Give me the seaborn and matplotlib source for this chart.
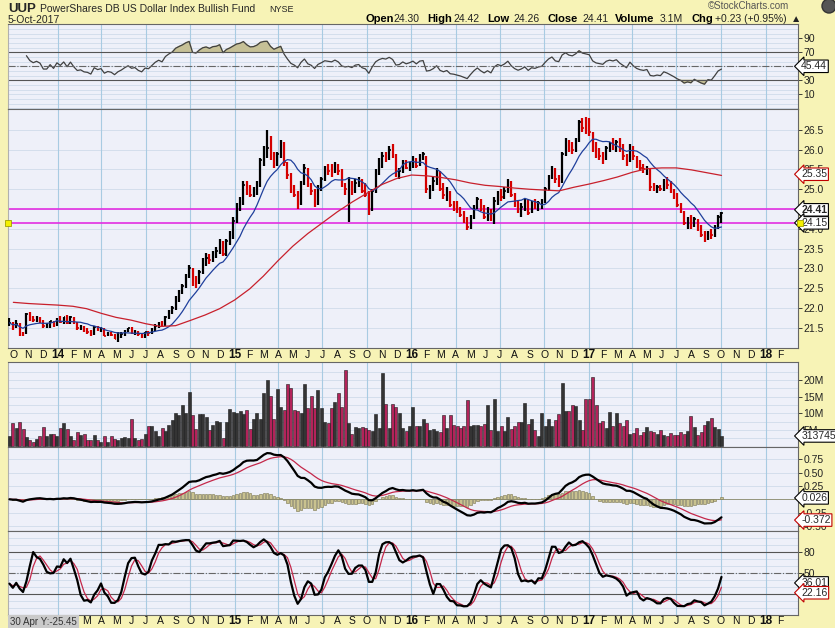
import numpy as np
import pandas as pd
import matplotlib
matplotlib.use('Agg')
import matplotlib.pyplot as plt
import matplotlib.dates as mdates
import matplotlib.transforms as mtransforms
from matplotlib.patches import Circle
import seaborn as sns

sns.set_style('white')
plt.rcParams['font.family'] = ['Liberation Sans', 'DejaVu Sans']
plt.rcParams['axes.unicode_minus'] = False

# weekly bars (week starting Monday)
week_start = '2013-09-23'
highs = [
    21.75, 21.65, 21.70, 21.62, 21.40, 21.88, 21.90, 21.80, 21.80, 21.78,
    21.70, 21.62, 21.68, 21.66, 21.75, 21.80, 21.78, 21.82, 21.80, 21.78,
    21.64, 21.56, 21.55, 21.48, 21.45, 21.55, 21.55, 21.52, 21.50, 21.40,
    21.40, 21.35, 21.38, 21.38, 21.45, 21.50, 21.52, 21.45, 21.42, 21.36,
    21.40, 21.42, 21.48, 21.58, 21.65, 21.68, 21.80, 21.95, 22.05, 22.30,
    22.45, 22.60, 22.85, 23.08, 23.00, 22.80, 22.95, 23.25, 23.40, 23.35,
    23.45, 23.55, 23.75, 23.70, 23.75, 23.95, 24.30, 24.65, 24.80, 25.20,
    25.20, 25.10, 25.05, 25.20, 25.80, 26.10, 26.50, 26.35, 25.95, 25.95,
    26.25, 26.20, 25.70, 25.40, 25.10, 24.95, 25.20, 25.65, 25.55, 25.15,
    25.00, 25.10, 25.30, 25.60, 25.65, 25.65, 25.70, 25.65, 25.50, 25.15,
    25.30, 25.20, 25.25, 25.30, 25.25, 25.15, 24.95, 25.00, 25.50, 25.80,
    25.95, 25.95, 26.10, 26.15, 25.90, 25.55, 25.75, 25.75, 25.70, 25.85,
    25.80, 25.90, 25.95, 25.85, 25.10, 25.30, 25.55, 25.45, 25.15, 25.05,
    24.95, 24.70, 24.70, 24.55, 24.45, 24.30, 24.35, 24.60, 24.80, 24.75,
    24.60, 24.55, 24.50, 24.80, 24.95, 25.00, 25.05, 25.25, 25.20, 24.90,
    24.70, 24.65, 24.75, 24.75, 24.70, 24.75, 24.70, 24.75, 25.05, 25.35,
    25.60, 25.55, 25.35, 25.95, 26.30, 26.25, 26.20, 26.30, 26.75, 26.80,
    26.84, 26.80, 26.45, 26.20, 26.05, 25.95, 26.10, 26.20, 26.30, 26.25,
    26.30, 26.15, 25.90, 26.15, 26.10, 25.85, 25.75, 25.65, 25.60, 25.55,
    25.15, 25.10, 25.10, 25.25, 25.30, 25.20, 25.00, 24.90, 24.65, 24.45,
    24.30, 24.35, 24.30, 24.25, 24.10, 23.95, 23.95, 24.00, 24.10, 24.35, 24.42,
]
lows = [
    21.55, 21.45, 21.48, 21.30, 21.28, 21.35, 21.68, 21.65, 21.64, 21.62,
    21.50, 21.48, 21.50, 21.52, 21.55, 21.62, 21.60, 21.60, 21.60, 21.58,
    21.45, 21.44, 21.38, 21.35, 21.30, 21.32, 21.42, 21.38, 21.28, 21.28,
    21.28, 21.20, 21.14, 21.25, 21.30, 21.38, 21.35, 21.32, 21.30, 21.24,
    21.25, 21.30, 21.34, 21.42, 21.50, 21.55, 21.55, 21.72, 21.85, 21.95,
    22.15, 22.35, 22.50, 22.75, 22.55, 22.50, 22.60, 22.85, 23.05, 23.10,
    23.15, 23.25, 23.35, 23.30, 23.30, 23.60, 23.75, 24.15, 24.45, 24.60,
    24.85, 24.80, 24.80, 24.85, 25.05, 25.60, 25.80, 25.75, 25.55, 25.60,
    25.80, 25.60, 25.25, 24.90, 24.80, 24.50, 24.60, 25.10, 25.05, 24.85,
    24.55, 24.60, 24.95, 25.20, 25.35, 25.30, 25.40, 25.35, 25.05, 24.85,
    24.18, 24.85, 24.90, 25.05, 24.90, 24.80, 24.35, 24.45, 24.90, 25.35,
    25.55, 25.70, 25.75, 25.80, 25.30, 25.25, 25.40, 25.50, 25.45, 25.55,
    25.55, 25.60, 25.75, 24.90, 24.75, 24.95, 25.10, 24.95, 24.75, 24.70,
    24.55, 24.45, 24.40, 24.30, 24.15, 23.97, 24.00, 24.25, 24.50, 24.45,
    24.25, 24.20, 24.20, 24.12, 24.60, 24.70, 24.75, 24.90, 24.80, 24.55,
    24.40, 24.30, 24.45, 24.35, 24.40, 24.50, 24.45, 24.50, 24.65, 24.95,
    25.25, 25.15, 25.05, 25.15, 25.85, 25.95, 25.90, 25.95, 26.20, 26.45,
    26.40, 26.35, 25.95, 25.80, 25.75, 25.65, 25.75, 25.95, 26.00, 25.95,
    25.95, 25.75, 25.60, 25.70, 25.75, 25.55, 25.45, 25.40, 25.35, 24.95,
    24.95, 24.90, 24.95, 24.95, 25.00, 24.90, 24.75, 24.55, 24.40, 24.10,
    24.00, 24.00, 24.05, 23.95, 23.80, 23.66, 23.72, 23.75, 23.80, 24.00, 24.15,
]
closes = [
    21.62, 21.52, 21.60, 21.35, 21.32, 21.85, 21.75, 21.70, 21.74, 21.70,
    21.55, 21.55, 21.66, 21.56, 21.72, 21.65, 21.76, 21.62, 21.78, 21.62,
    21.48, 21.50, 21.42, 21.40, 21.33, 21.52, 21.45, 21.48, 21.30, 21.35,
    21.32, 21.22, 21.30, 21.35, 21.42, 21.48, 21.40, 21.42, 21.33, 21.28,
    21.38, 21.36, 21.45, 21.55, 21.62, 21.58, 21.78, 21.90, 22.00, 22.25,
    22.40, 22.55, 22.80, 23.00, 22.65, 22.62, 22.90, 23.15, 23.25, 23.20,
    23.40, 23.45, 23.65, 23.35, 23.70, 23.90, 24.20, 24.55, 24.70, 25.10,
    24.95, 24.85, 24.90, 25.15, 25.75, 26.00, 26.05, 25.80, 25.65, 25.90,
    26.15, 25.70, 25.35, 25.00, 24.85, 24.60, 25.15, 25.55, 25.10, 24.95,
    24.60, 25.05, 25.25, 25.50, 25.45, 25.40, 25.60, 25.45, 25.10, 25.00,
    25.05, 24.95, 25.15, 25.20, 24.95, 24.85, 24.45, 24.95, 25.45, 25.70,
    25.85, 25.80, 26.00, 25.85, 25.40, 25.45, 25.70, 25.55, 25.65, 25.80,
    25.60, 25.85, 25.90, 25.00, 25.05, 25.20, 25.45, 25.00, 24.85, 24.95,
    24.60, 24.55, 24.45, 24.35, 24.20, 24.05, 24.30, 24.55, 24.75, 24.50,
    24.30, 24.45, 24.25, 24.70, 24.90, 24.80, 24.95, 25.20, 24.85, 24.60,
    24.45, 24.55, 24.70, 24.40, 24.60, 24.55, 24.65, 24.70, 25.00, 25.30,
    25.50, 25.25, 25.20, 25.90, 26.20, 26.05, 26.00, 26.25, 26.70, 26.55,
    26.50, 26.45, 26.05, 25.90, 25.85, 25.80, 26.05, 26.15, 26.10, 26.20,
    26.00, 25.85, 25.70, 26.10, 25.85, 25.65, 25.55, 25.50, 25.55, 25.05,
    25.00, 25.05, 25.00, 25.20, 25.10, 24.95, 24.80, 24.60, 24.45, 24.15,
    24.20, 24.10, 24.25, 24.05, 23.85, 23.70, 23.90, 23.85, 24.05, 24.30, 24.41,
]
# weekly volume, millions of shares
volumes = [
    3.2, 7.0, 5.6, 7.3, 5.2, 2.8, 2.0, 1.2, 2.3, 3.0,
    5.8, 3.0, 3.8, 3.6, 3.0, 5.6, 7.0, 5.2, 3.0, 2.0,
    4.2, 3.4, 3.8, 2.0, 2.0, 3.5, 1.8, 1.4, 3.2, 1.2,
    3.0, 2.2, 2.0, 2.6, 2.8, 2.6, 8.3, 2.5, 1.9, 2.2,
    3.7, 6.3, 6.3, 4.5, 3.0, 5.4, 4.5, 6.5, 8.0, 10.0,
    9.5, 12.5, 10.0, 16.5, 9.6, 5.3, 9.8, 9.8, 9.0, 5.0,
    6.5, 7.8, 7.5, 2.5, 7.3, 11.3, 10.3, 10.2, 10.7, 9.8,
    11.0, 5.2, 8.4, 10.0, 8.2, 16.0, 20.2, 15.2, 8.2, 17.3,
    12.0, 11.0, 18.9, 17.7, 11.0, 10.8, 10.0, 18.9, 11.5, 15.2,
    11.6, 16.9, 11.5, 7.4, 7.0, 11.5, 13.3, 16.1, 12.0, 23.2,
    7.0, 3.8, 5.8, 5.4, 5.8, 5.6, 5.0, 4.6, 9.8, 5.4,
    22.2, 12.8, 5.6, 12.8, 12.0, 10.2, 5.4, 4.5, 6.0, 12.0,
    6.3, 6.3, 8.2, 7.1, 5.0, 5.2, 4.5, 4.4, 9.5, 5.5,
    9.5, 6.6, 6.0, 5.5, 6.0, 14.0, 6.2, 6.4, 6.6, 6.2,
    6.8, 12.6, 5.0, 14.3, 4.5, 6.3, 4.6, 9.0, 5.3, 6.2,
    7.5, 7.5, 13.0, 6.8, 8.2, 5.0, 3.0, 10.2, 6.2, 8.4,
    6.0, 8.0, 9.8, 19.0, 10.8, 10.8, 12.5, 12.3, 8.0, 5.0,
    14.3, 14.2, 21.1, 12.4, 7.0, 7.8, 5.5, 10.3, 6.2, 10.0,
    7.1, 6.2, 8.0, 3.6, 4.0, 5.5, 3.5, 4.2, 5.7, 4.5,
    4.2, 3.8, 4.8, 3.5, 3.2, 4.0, 3.3, 3.5, 4.3, 3.8,
    4.5, 9.3, 5.8, 3.5, 4.2, 6.5, 7.6, 8.6, 5.8, 5.3, 3.1,
]
# 40-week moving average (red line), read once a month
ma40_dates = pd.date_range('2013-10-01', '2017-09-01', freq='MS').append(pd.DatetimeIndex(['2017-10-02']))
ma40_values = [
    22.14, 22.11, 22.09,
    22.07, 22.04, 21.98, 21.86, 21.76, 21.69, 21.60, 21.53, 21.55, 21.68, 21.82, 21.98,
    22.20, 22.48, 22.80, 23.20, 23.56, 23.88, 24.15, 24.43, 24.68, 24.90, 25.12, 25.27,
    25.36, 25.34, 25.30, 25.24, 25.16, 25.10, 25.07, 25.03, 25.00, 24.98, 24.96, 25.05,
    25.13, 25.22, 25.31, 25.43, 25.52, 25.54, 25.54, 25.49, 25.42,
    25.35,
]
hlines_px = [24.50, 24.15]

dates = pd.date_range(week_start, periods=len(closes), freq='W-MON')
xd = mdates.date2num(dates)
c = pd.Series(closes)

# indicators from the weekly data
ma10 = c.rolling(10, min_periods=1).mean()
delta = c.diff()
gain = delta.clip(lower=0).ewm(alpha=1 / 14, adjust=True).mean()
loss = (-delta.clip(upper=0)).ewm(alpha=1 / 14, adjust=True).mean()
rsi = 100 - 100 / (1 + gain / loss)
rsi_start = 5  # too few weeks before this for a stable value
ema12 = c.ewm(span=12, adjust=False).mean()
ema26 = c.ewm(span=26, adjust=False).mean()
macd = ema12 - ema26
signal = macd.ewm(span=9, adjust=False).mean()
hist = macd - signal
hh = pd.Series(highs).rolling(14, min_periods=1).max()
ll = pd.Series(lows).rolling(14, min_periods=1).min()
fastk = 100 * (c - ll) / (hh - ll)
slowk = fastk.rolling(3, min_periods=1).mean()
slowd = slowk.rolling(3, min_periods=1).mean()

up = np.r_[True, np.diff(closes) >= 0]
bar_colors = np.where(up, 'black', '#d40000')
vol_colors = np.where(up, '#343434', '#b3235a')

W, H = 835, 628
fig = plt.figure(figsize=(W / 100, H / 100), dpi=100)
fig.patch.set_facecolor('#f7f3b6')

xmin = mdates.date2num(pd.Timestamp('2013-09-20'))
xmax = mdates.date2num(pd.Timestamp('2018-03-09'))
quarters = mdates.date2num(pd.date_range('2014-01-01', '2018-01-01', freq='QS'))


def panel(top, bottom):
    return fig.add_axes([8 / W, 1 - bottom / H, 790 / W, (bottom - top) / H])


def style(ax, ylim, ticks, labels, grid):
    ax.set_facecolor('#eef0f9')
    ax.set_xlim(xmin, xmax)
    ax.set_ylim(*ylim)
    for g in grid:
        ax.axhline(g, color='#cfdbea', lw=0.6, zorder=0)
    for q in quarters:
        ax.axvline(q, color='#a8cbe2', lw=0.8, zorder=0)
    ax.yaxis.tick_right()
    ax.set_yticks(ticks)
    ax.set_yticklabels(labels)
    ax.tick_params(axis='y', length=3, width=0.6, pad=1, labelsize=7.5, colors='#222222')
    ax.set_xticks([])
    ax.set_xlabel('')
    ax.set_ylabel('')
    for s in ax.spines.values():
        s.set_color('#666666')
        s.set_linewidth(0.8)
    ax.spines['left'].set_color('#b0b0b0')


def value_box(ax, y, text, ec='black', bold=False, marker=False):
    ax.annotate(text, xy=(1.004, y), xycoords=('axes fraction', 'data'), ha='left', va='center',
                fontsize=7.5, fontweight='bold' if bold else 'normal', zorder=10, annotation_clip=False,
                bbox=dict(boxstyle='larrow,pad=0.12', fc='white', ec=ec, lw=0.8))
    if marker:
        ax.plot([1.003], [y], marker='s', ms=4, mfc='#f4f000', mec='#a0a000', mew=0.6,
                transform=ax.get_yaxis_transform(), clip_on=False, zorder=11)


# RSI panel
ax_rsi = panel(24, 109)
rx = xd[rsi_start:]
rv = rsi.values[rsi_start:]
sns.lineplot(x=rx, y=rv, ax=ax_rsi, color='#404040', lw=0.9)
ax_rsi.fill_between(rx, rv, 70, where=rv > 70, interpolate=True, color='#c6c096', zorder=1)
ax_rsi.fill_between(rx, rv, 30, where=rv < 30, interpolate=True, color='#c6c096', zorder=1)
ax_rsi.axhline(70, color='#555555', lw=0.8)
ax_rsi.axhline(30, color='#555555', lw=0.8)
ax_rsi.axhline(50, color='#666666', lw=0.8, ls='-.')
style(ax_rsi, (-11, 110.4), [10, 30, 50, 70, 90], ['10', '30', '50', '70', '90'],
      np.arange(50 - 20 / 3 * 9, 110, 20 / 3))
value_box(ax_rsi, 50, '45.44')

# price panel
ax_px = panel(109, 348)
ax_px.vlines(xd, lows, highs, colors=bar_colors, lw=1.6, zorder=3)
ax_px.hlines(closes, xd, xd + 3, colors=bar_colors, lw=1.2, zorder=3)
sns.lineplot(x=xd, y=ma10.values, ax=ax_px, color='#1f3f9c', lw=0.9, zorder=4)
sns.lineplot(x=mdates.date2num(ma40_dates), y=ma40_values, ax=ax_px, color='#c8202c', lw=0.9, zorder=4)
for lv in hlines_px:
    ax_px.axhline(lv, color='#e22ee2', lw=1.2, zorder=2)
price_ticks = np.arange(21.5, 26.51, 0.5)
style(ax_px, (20.985, 27.03), price_ticks, ['%.1f' % t for t in price_ticks], price_ticks)
value_box(ax_px, 25.38, '25.35', ec='#c00000')
value_box(ax_px, 24.48, '24.41', bold=True)
value_box(ax_px, 24.15, '24.15', marker=True)
ax_px.plot([0.0], [24.15], marker='s', ms=4, mfc='#f4f000', mec='#a0a000', mew=0.6,
           transform=ax_px.get_yaxis_transform(), clip_on=False, zorder=11)

# volume panel
ax_vol = panel(362, 447)
ax_vol.bar(xd, volumes, width=6.2, color=vol_colors, edgecolor='#1a1a1a', lw=0.4, zorder=3)
style(ax_vol, (-0.2, 25.5), [5, 10, 15, 20], ['5M', '10M', '15M', '20M'], np.arange(2.5, 25, 2.5))
value_box(ax_vol, 3.14, '3137457')

# MACD panel
ax_macd = panel(447, 531)
ax_macd.bar(xd, hist.values, width=5.0, color='#c9c28f', edgecolor='#77734c', lw=0.4, zorder=2)
ax_macd.axhline(0, color='#8a8a6a', lw=0.6, zorder=2)
sns.lineplot(x=xd, y=signal.values, ax=ax_macd, color='#c4284a', lw=0.9, zorder=3)
sns.lineplot(x=xd, y=macd.values, ax=ax_macd, color='black', lw=1.6, zorder=4)
style(ax_macd, (-0.595, 0.981), [-0.5, -0.25, 0.25, 0.5, 0.75],
      ['-0.50', '-0.25', '0.25', '0.50', '0.75'], np.arange(-0.5, 0.9, 0.25))
value_box(ax_macd, 0.026, '0.026')
value_box(ax_macd, -0.39, '-0.372', ec='#c00000')

# slow stochastics panel
ax_sto = panel(531, 615)
sns.lineplot(x=xd, y=slowd.values, ax=ax_sto, color='#c4284a', lw=0.9, zorder=3)
sns.lineplot(x=xd, y=slowk.values, ax=ax_sto, color='black', lw=1.6, zorder=4)
ax_sto.axhline(80, color='#555555', lw=0.8)
ax_sto.axhline(20, color='#555555', lw=0.8)
ax_sto.axhline(50, color='#666666', lw=0.8, ls='-.')
style(ax_sto, (-9.2, 109.2), [50, 80], ['50', '80'], np.arange(0, 110, 10))
value_box(ax_sto, 36.01, '36.01')
value_box(ax_sto, 22.16, '22.16', ec='#c00000')

# month labels under price and stochastics panels
months = pd.date_range('2013-10-01', '2018-02-01', freq='MS')
for ax, ypos, first in [(ax_px, -0.03, months[0]), (ax_sto, -0.072, pd.Timestamp('2014-02-20'))]:
    for m in months:
        if m < first:
            continue  # hidden behind the cursor readout in the lower row
        if m.month == 1:
            lab, fw, fs = m.strftime('%y'), 'bold', 8.5
        else:
            lab, fw, fs = 'JFMAMJJASOND'[m.month - 1], 'normal', 7.5
        ax.text(mdates.date2num(m), ypos, lab, transform=ax.get_xaxis_transform(), ha='center',
                va='center', fontsize=fs, fontweight=fw, color='#111111', clip_on=False)


def ftext(x, y, s, **kw):
    fig.text(x / W, 1 - y / H, s, va='center', **kw)


ftext(8, 9, 'UUP', fontsize=9.5, fontweight='bold')
ftext(40, 9, 'PowerShares DB US Dollar Index Bullish Fund', fontsize=7.5)
ftext(269, 9.5, 'NYSE', fontsize=6.5)
ftext(8, 20, '5-Oct-2017', fontsize=7.5)
ftext(708, 6, '\u00a9StockCharts.com', fontsize=7, color='#555555')
header = [(365, 'Open', True), (393, '24.30', False), (427, 'High', True), (453, '24.42', False),
          (487, 'Low', True), (513, '24.26', False), (547, 'Close', True), (582, '24.41', False),
          (615, 'Volume', True), (660, '3.1M', False), (691, 'Chg', True),
          (715, '+0.23 (+0.95%)', False), (791, '\u25b2', False)]
for x, s, b in header:
    ftext(x, 19, s, fontsize=8 if b else 7.5, fontweight='bold' if b else 'normal',
          color='black' if b else '#222222')
fig.text(10 / W, 1 - 622 / H, '30 Apr Y:-25.45', va='center', fontsize=7, color='#333333', zorder=20,
         bbox=dict(boxstyle='square,pad=0.2', fc='#cacaca', ec='none'))
fig.add_artist(Circle((829, H - 6), 7, transform=mtransforms.IdentityTransform(),
                      fc='#555555', ec='#333333'))

fig.savefig('out.png', dpi=100, facecolor=fig.get_facecolor())
